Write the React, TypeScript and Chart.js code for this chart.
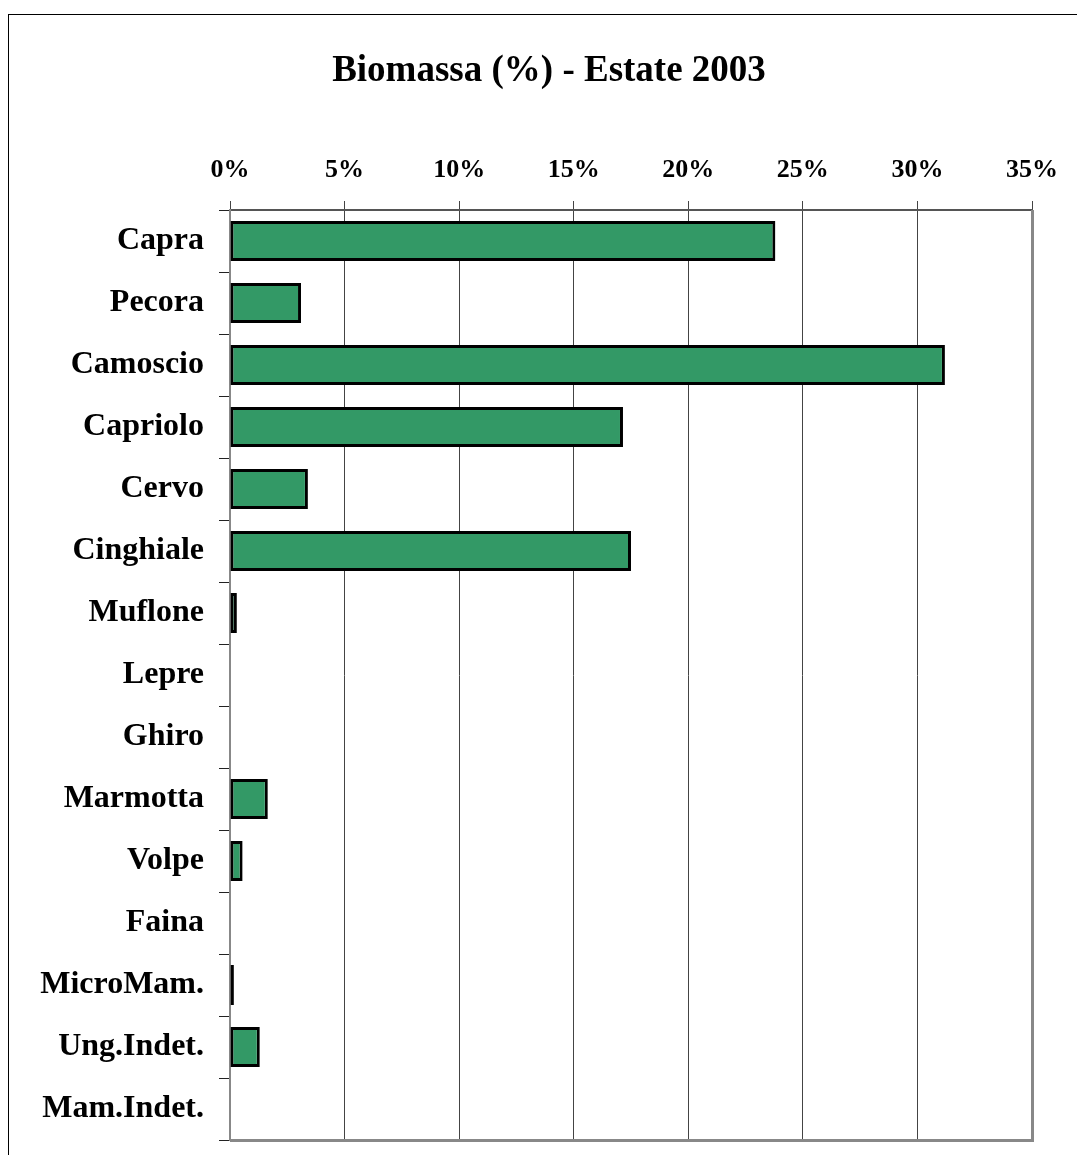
import React, { useEffect, useRef } from 'react';
import { Chart, registerables } from 'chart.js';

Chart.register(...registerables);

const categories = [
  'Capra', 'Pecora', 'Camoscio', 'Capriolo', 'Cervo', 'Cinghiale', 'Muflone',
  'Lepre', 'Ghiro', 'Marmotta', 'Volpe', 'Faina', 'MicroMam.', 'Ung.Indet.', 'Mam.Indet.',
];
const biomassa = [23.8, 3.1, 31.2, 17.15, 3.4, 17.5, 0.3, 0, 0, 1.65, 0.55, 0, 0.17, 1.3, 0];
const titleText = 'Biomassa (%) - Estate 2003';
const xMin = 0;
const xMax = 35;
const xStep = 5;

const FONT = "'Liberation Serif', 'Times New Roman', serif";

const plotFrame = {
  id: 'plotFrame',
  afterDraw(chart: any) {
    const { ctx, chartArea } = chart;
    ctx.save();
    ctx.strokeStyle = '#888888';
    ctx.lineWidth = 3;
    ctx.beginPath();
    ctx.moveTo(chartArea.right + 0.5, chartArea.top);
    ctx.lineTo(chartArea.right + 0.5, chartArea.bottom + 2);
    ctx.moveTo(chartArea.left, chartArea.bottom + 0.5);
    ctx.lineTo(chartArea.right + 2, chartArea.bottom + 0.5);
    ctx.stroke();
    ctx.restore();
  },
};

export default function App() {
  const canvasRef = useRef<HTMLCanvasElement | null>(null);

  useEffect(() => {
    if (!canvasRef.current) return;
    const chart = new Chart(canvasRef.current, {
      type: 'bar',
      data: {
        labels: categories,
        datasets: [
          {
            data: biomassa,
            backgroundColor: '#339966',
            borderColor: '#000000',
            borderWidth: 3,
            borderSkipped: false,
            categoryPercentage: 1,
            barPercentage: 0.645,
            xAxisID: 'x',
            yAxisID: 'y',
          },
        ],
      },
      options: {
        indexAxis: 'y',
        responsive: false,
        animation: false,
        devicePixelRatio: 1,
        layout: { padding: { left: 0, right: 0, top: 0, bottom: 15 } },
        plugins: {
          legend: { display: false },
          tooltip: { enabled: false },
          title: {
            display: true,
            text: titleText,
            color: '#000',
            font: { family: FONT, size: 37, weight: 'bold', lineHeight: 1.2 },
            padding: { top: 34, bottom: 0 },
          },
        },
        scales: {
          x: {
            position: 'top',
            min: xMin,
            max: xMax,
            afterFit: (scale: any) => {
              scale.height = 116.6;
              scale.paddingLeft = 0;
              scale.paddingRight = 0;
            },
            ticks: {
              stepSize: xStep,
              padding: 15,
              color: '#000',
              font: { family: FONT, size: 26, weight: 'bold' },
              callback: (v: any) => `${v}%`,
            },
            grid: {
              color: '#444444',
              lineWidth: 1,
              tickLength: 9,
              drawOnChartArea: true,
            },
            border: { color: '#555555', width: 2 },
          },
          y: {
            position: 'left',
            afterFit: (scale: any) => {
              scale.width = 221;
              scale.paddingTop = 0;
              scale.paddingBottom = 0;
            },
            ticks: {
              padding: 15,
              color: '#000',
              font: { family: FONT, size: 32, weight: 'bold' },
            },
            grid: {
              offset: true,
              drawOnChartArea: false,
              color: '#222222',
              tickLength: 11,
            },
            border: { color: '#888888', width: 2 },
          },
          yRight: {
            type: 'category',
            position: 'right',
            labels: categories,
            afterFit: (scale: any) => {
              scale.width = 57;
              scale.paddingTop = 0;
              scale.paddingBottom = 0;
            },
            ticks: { display: false },
            grid: { display: false },
            border: { display: false },
          },
        },
      },
      plugins: [plotFrame],
    });
    return () => chart.destroy();
  }, []);

  return (
    <div
      style={{
        position: 'absolute',
        left: 8,
        top: 14,
        width: 1069,
        height: 1141,
        overflow: 'hidden',
        background: '#fff',
      }}
    >
      <div
        style={{
          position: 'relative',
          width: 1100,
          height: 1200,
          border: '1px solid #000',
          boxSizing: 'border-box',
        }}
      >
        <canvas
          ref={canvasRef}
          width={1080}
          height={1140}
          style={{ position: 'absolute', left: 0, top: 0, width: 1080, height: 1140 }}
        />
      </div>
    </div>
  );
}
